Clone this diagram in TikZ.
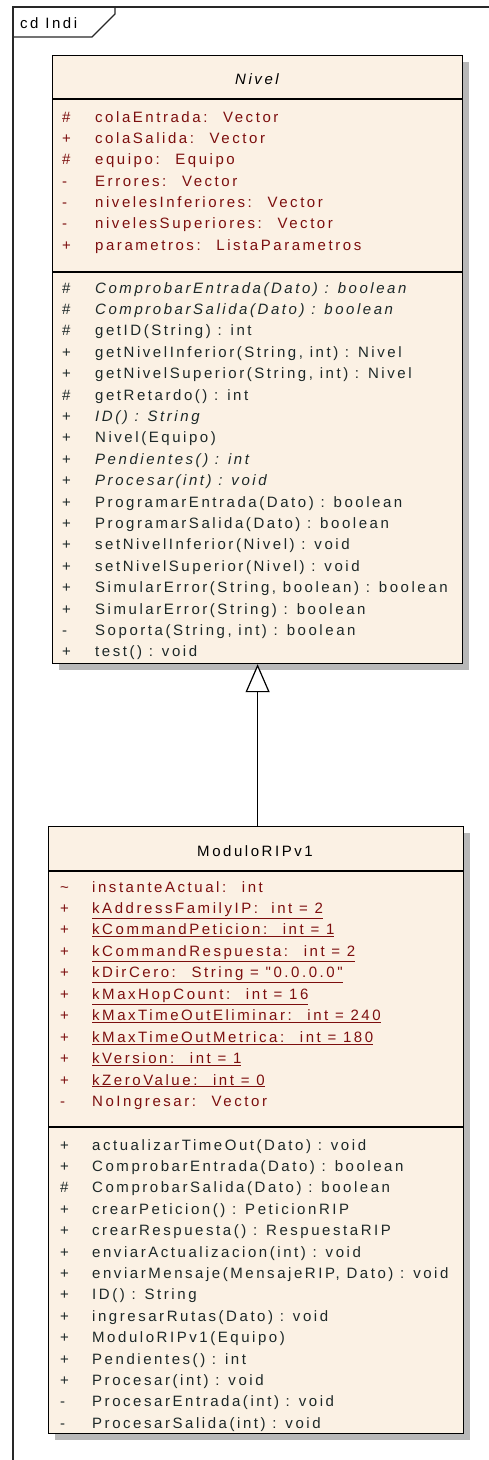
\documentclass[tikz,border=0pt]{standalone}
\usepackage{fontspec}
\setmainfont{Liberation Sans}
\newfontfamily\umlfont[LetterSpace=17]{Liberation Sans}
\usetikzlibrary{arrows.meta,shadows}
\definecolor{boxfill}{RGB}{251,241,228}
\definecolor{attrred}{RGB}{124,14,14}
\definecolor{operdark}{RGB}{28,40,40}
\definecolor{framegray}{RGB}{40,40,40}
\begin{document}
\begin{tikzpicture}[
  x=1pt, y=-1pt,
  font=\umlfont\fontsize{15}{18}\selectfont,
  classbox/.style={draw=black, line width=1.2pt, fill=boxfill, inner sep=0pt,
    anchor=north west,
    drop shadow={shadow xshift=6pt, shadow yshift=-6pt, fill=black!28, opacity=1}},
  divider/.style={draw=black, line width=1.2pt},
  framel/.style={draw=framegray, line width=1.2pt},
  attr/.style={inner sep=0pt, anchor=base west, text=attrred},
  oper/.style={inner sep=0pt, anchor=base west, text=operdark},
  cname/.style={inner sep=0pt, text=black},
  gen/.style={draw=black, line width=1.2pt,
    -{Triangle[width=24pt, length=28pt, fill=white]}}
]
\useasboundingbox (0,0) rectangle (489,1460);

% diagram frame
\draw [framel] (13,1470) -- (13,7) -- (495,7);
\draw [framel] (13,37) -- (92,37) -- (115,14) -- (115,7);
\node [cname, anchor=west] (tabname) at (20,23) {cd Indi};

% class Nivel
\node [classbox, minimum width=410pt, minimum height=608pt] (nivel) at (52,55) {};
\draw [divider] (52,99) -- (462,99);
\draw [divider] (52,272) -- (462,272);
\node [cname, font=\umlfont\itshape\fontsize{15}{18}\selectfont] (niveltitle) at (257,79) {Nivel};

\foreach \v/\t [count=\i from 0] in {
  \#/{colaEntrada:~ Vector}, +/{colaSalida:~ Vector}, \#/{equipo:~ Equipo},
  -/{Errores:~ Vector}, -/{nivelesInferiores:~ Vector},
  -/{nivelesSuperiores:~ Vector}, +/{parametros:~ ListaParametros}}
{
  \node [attr] (nav\i) at (62,122+21.35*\i) {\v};
  \node [attr] (nat\i) at (95,122+21.35*\i) {\t};
}

\foreach \v/\t [count=\i from 0] in {
  \#/{\textit{ComprobarEntrada(Dato) : boolean}},
  \#/{\textit{ComprobarSalida(Dato) : boolean}},
  \#/{getID(String) : int},
  +/{getNivelInferior(String, int) : Nivel},
  +/{getNivelSuperior(String, int) : Nivel},
  \#/{getRetardo() : int},
  +/{\textit{ID() : String}},
  +/{Nivel(Equipo)},
  +/{\textit{Pendientes() : int}},
  +/{\textit{Procesar(int) : void}},
  +/{ProgramarEntrada(Dato) : boolean},
  +/{ProgramarSalida(Dato) : boolean},
  +/{setNivelInferior(Nivel) : void},
  +/{setNivelSuperior(Nivel) : void},
  +/{SimularError(String, boolean) : boolean},
  +/{SimularError(String) : boolean},
  -/{Soporta(String, int) : boolean},
  +/{test() : void}}
{
  \node [oper] (nov\i) at (62,293+21.41*\i) {\v};
  \node [oper] (not\i) at (95,293+21.41*\i) {\t};
}

% class ModuloRIPv1
\node [classbox, minimum width=415pt, minimum height=607pt] (modulo) at (48,826) {};
\draw [divider] (48,871) -- (463,871);
\draw [divider] (48,1127) -- (463,1127);
\node [cname] (modulotitle) at (255,851) {ModuloRIPv1};

\foreach \v/\t [count=\i from 0] in {
  \textasciitilde/{instanteActual:~ int},
  +/{\underline{kAddressFamilyIP:~ int = 2}},
  +/{\underline{kCommandPeticion:~ int = 1}},
  +/{\underline{kCommandRespuesta:~ int = 2}},
  +/{\underline{kDirCero:~ String = "0.0.0.0"}},
  +/{\underline{kMaxHopCount:~ int = 16}},
  +/{\underline{kMaxTimeOutEliminar:~ int = 240}},
  +/{\underline{kMaxTimeOutMetrica:~ int = 180}},
  +/{\underline{kVersion:~ int = 1}},
  +/{\underline{kZeroValue:~ int = 0}},
  -/{NoIngresar:~ Vector}}
{
  \node [attr] (mav\i) at (60,892+21.45*\i) {\v};
  \node [attr] (mat\i) at (92,892+21.45*\i) {\t};
}

\foreach \v/\t [count=\i from 0] in {
  +/{actualizarTimeOut(Dato) : void},
  +/{ComprobarEntrada(Dato) : boolean},
  \#/{ComprobarSalida(Dato) : boolean},
  +/{crearPeticion() : PeticionRIP},
  +/{crearRespuesta() : RespuestaRIP},
  +/{enviarActualizacion(int) : void},
  +/{enviarMensaje(MensajeRIP, Dato) : void},
  +/{ID() : String},
  +/{ingresarRutas(Dato) : void},
  +/{ModuloRIPv1(Equipo)},
  +/{Pendientes() : int},
  +/{Procesar(int) : void},
  -/{ProcesarEntrada(int) : void},
  -/{ProcesarSalida(int) : void}}
{
  \node [oper] (mov\i) at (60,1150+21.4*\i) {\v};
  \node [oper] (mot\i) at (92,1150+21.4*\i) {\t};
}

% generalization
\draw [gen] (nivel.south |- modulo.north) -- (nivel.south);
\end{tikzpicture}
\end{document}
